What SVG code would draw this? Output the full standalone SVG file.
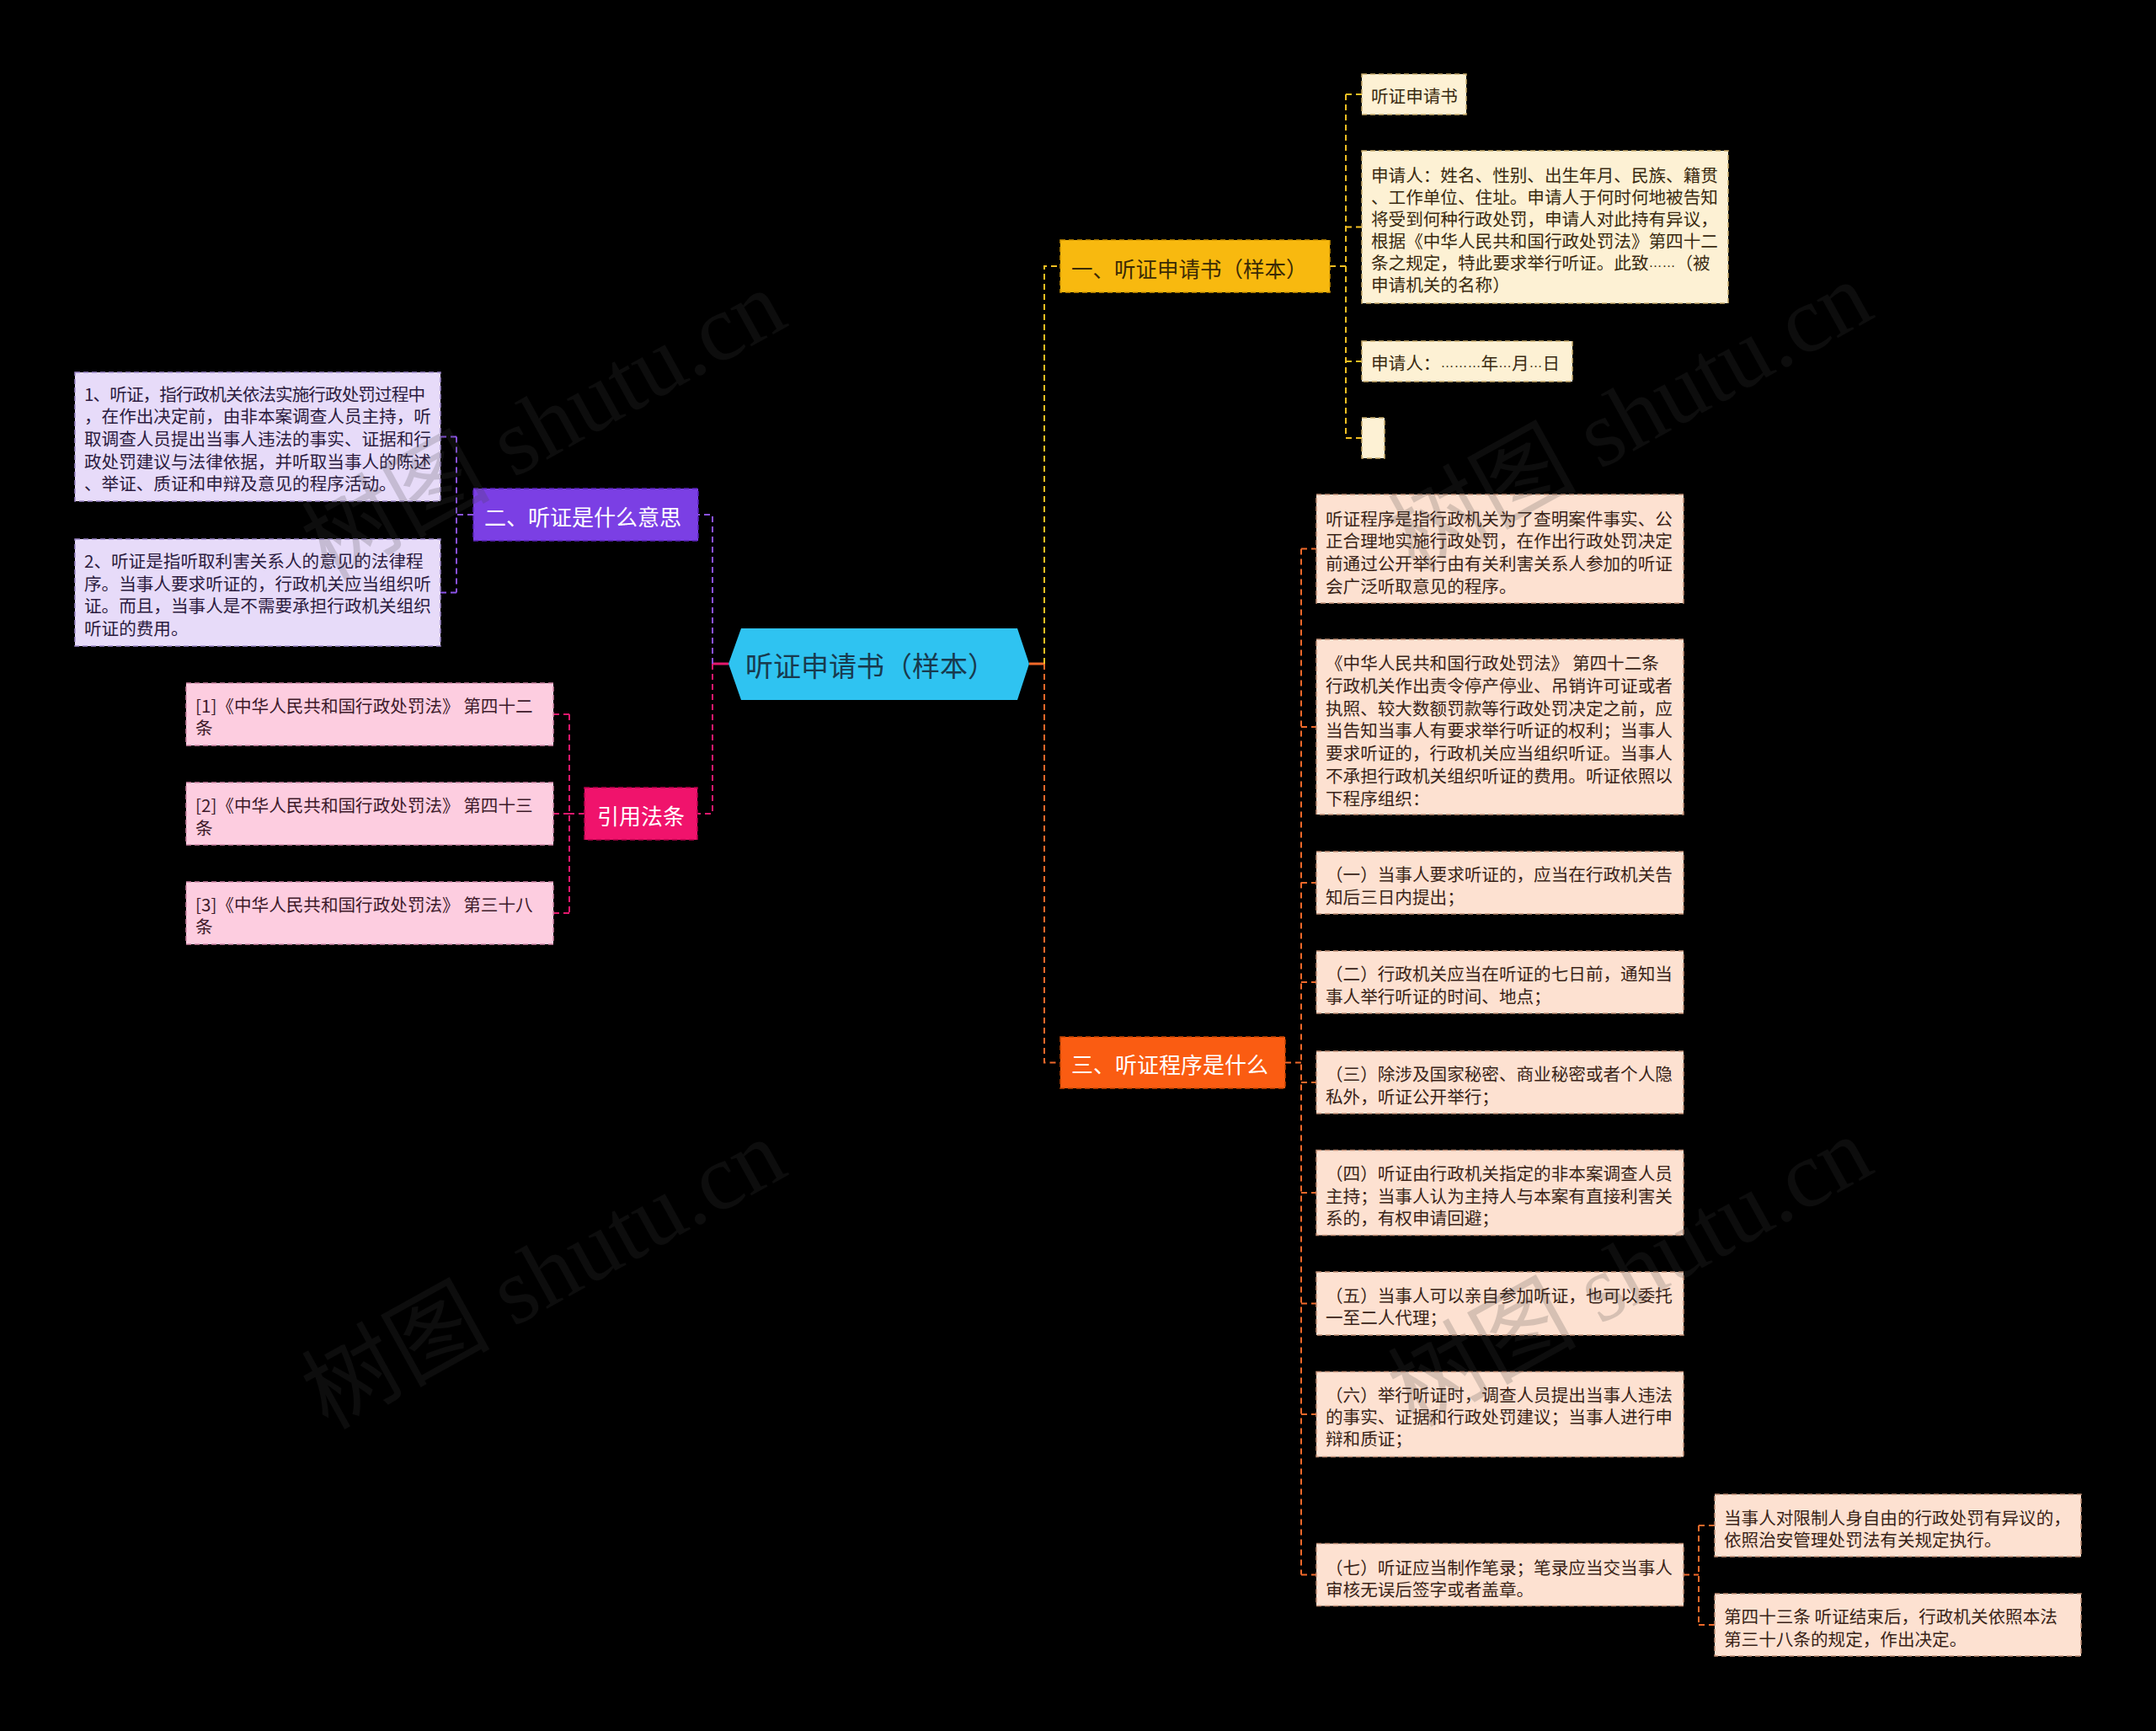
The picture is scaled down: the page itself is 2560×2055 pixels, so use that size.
<svg xmlns="http://www.w3.org/2000/svg" width="2560" height="2055" viewBox="0 0 2560 2055">
<style>
.t{font-family:"Noto Sans CJK SC","Noto Sans",sans-serif;font-size:20.6px;dominant-baseline:central}
.e{font-family:"Liberation Sans",sans-serif}
.bt{font-family:"Noto Sans CJK SC","Noto Sans",sans-serif;font-size:26px;dominant-baseline:central;fill:#ffffff}
.cy{stroke:#f3bf22;stroke-width:2;stroke-dasharray:7 5;fill:none}
.co{stroke:#f0692a;stroke-width:2;stroke-dasharray:7 5;fill:none}
.cp{stroke:#8a52e8;stroke-width:2;stroke-dasharray:7 5;fill:none}
.ck{stroke:#e3186d;stroke-width:2;stroke-dasharray:7 5;fill:none}
.cream{fill:#fdf1d4;stroke:#c9ad6e;stroke-width:1.5;stroke-dasharray:6 4}
.peach{fill:#fde1d1;stroke:#bf8d74;stroke-width:1.5;stroke-dasharray:6 4}
.lav{fill:#e7dbf9;stroke:#9c86c8;stroke-width:1.5;stroke-dasharray:6 4}
.pink{fill:#fdcde0;stroke:#cf86a6;stroke-width:1.5;stroke-dasharray:6 4}
.tc{fill:#3a2a10}
.tp{fill:#3a2418}
.tl{fill:#2c1c40}
.tk{fill:#3e1a2a}
.wm{font-family:"Liberation Serif","Noto Sans CJK SC",serif;font-size:112px;fill:#404040;opacity:0.2}
</style>
<rect x="0" y="0" width="2560" height="2055" fill="#000000"/>

<g id="connectors">
  <line x1="1222" y1="788" x2="1240" y2="788" stroke="#f0692a" stroke-width="3"/>
  <line x1="846" y1="788" x2="865" y2="788" stroke="#e3186d" stroke-width="3"/>
  <path class="cy" d="M1240 788 V316 H1259"/>
  <path class="co" d="M1240 788 V1261.5 H1259"/>
  <path class="cp" d="M846 788 V611 H829"/>
  <path class="ck" d="M846 788 V966 H828"/>
  <path class="cy" d="M1579 316 H1598 M1598 112 V520 M1598 112 H1617 M1598 269.5 H1617 M1598 429 H1617 M1598 520 H1617"/>
  <path class="co" d="M1526 1261.5 H1545 M1545 651.5 V1869.5 M1545 651.5 H1563 M1545 863 H1563 M1545 1048 H1563 M1545 1166 H1563 M1545 1285 H1563 M1545 1416 H1563 M1545 1547.5 H1563 M1545 1679 H1563 M1545 1869.5 H1563"/>
  <path class="co" d="M1999 1869.5 H2017 M2017 1811 V1929 M2017 1811 H2036 M2017 1929 H2036"/>
  <path class="cp" d="M562 611 H542 M542 518.5 V703.5 M542 518.5 H523 M542 703.5 H523"/>
  <path class="ck" d="M694 966 H676 M676 848 V1084 M676 848 H657 M676 966 H657 M676 1084 H657"/>
</g>

<g id="root">
  <polygon points="865,788 880,746 1208,746 1222,788 1208,831 880,831" fill="#2fc3f1"/>
  <text x="885" y="789" font-family="Noto Sans CJK SC, sans-serif" font-size="33" dominant-baseline="central" fill="#183a4e">听证申请书（样本）</text>
</g>

<g id="b1">
  <rect x="1259" y="285" width="320" height="62" fill="#f8b90f" stroke="#d49800" stroke-width="1.5" stroke-dasharray="6 4"/>
  <text class="bt" x="1272" y="317" style="fill:#3a2a05;font-size:25.5px">一、听证申请书（样本）</text>
</g>
<g id="b1c1">
  <rect class="cream" x="1617" y="88" width="124" height="48"/>
  <text class="t tc" x="1628" y="113">听证申请书</text>
</g>
<g id="b1c2">
  <rect class="cream" x="1617" y="179" width="435" height="181"/>
  <text class="t tc" x="1628" y="206.5">申请人：姓名、性别、出生年月、民族、籍贯</text>
  <text class="t tc" x="1628" y="232.5">、工作单位、住址。申请人于何时何地被告知</text>
  <text class="t tc" x="1628" y="258.5">将受到何种行政处罚，申请人对此持有异议，</text>
  <text class="t tc" x="1628" y="284.5">根据《中华人民共和国行政处罚法》第四十二</text>
  <text class="t tc" x="1628" y="310.5">条之规定，特此要求举行听证。此致<tspan class="e" style="font-size:16px">……</tspan>（被</text>
  <text class="t tc" x="1628" y="336.5">申请机关的名称）</text>
</g>
<g id="b1c3">
  <rect class="cream" x="1617" y="405" width="250" height="48"/>
  <text class="t tc" x="1628" y="430">申请人：<tspan class="e" style="font-size:16px">………</tspan>年<tspan class="e" style="font-size:16px">…</tspan>月<tspan class="e" style="font-size:16px">…</tspan>日</text>
</g>
<g id="b1c4">
  <rect class="cream" x="1617" y="496" width="27" height="48"/>
</g>

<g id="b3">
  <rect x="1259" y="1231" width="267" height="61" fill="#fa5c12" stroke="#c84400" stroke-width="1.5" stroke-dasharray="6 4"/>
  <text class="bt" x="1272" y="1262">三、听证程序是什么</text>
</g>
<g id="b3c1">
  <rect class="peach" x="1563" y="587" width="436" height="129"/>
  <text class="t tp" x="1574" y="614.5">听证程序是指行政机关为了查明案件事实、公</text>
  <text class="t tp" x="1574" y="641.2">正合理地实施行政处罚，在作出行政处罚决定</text>
  <text class="t tp" x="1574" y="667.9">前通过公开举行由有关利害关系人参加的听证</text>
  <text class="t tp" x="1574" y="694.6">会广泛听取意见的程序。</text>
</g>
<g id="b3c2">
  <rect class="peach" x="1563" y="759" width="436" height="208"/>
  <text class="t tp" x="1574" y="786.3">《中华人民共和国行政处罚法》 第四十二条</text>
  <text class="t tp" x="1574" y="813">行政机关作出责令停产停业、吊销许可证或者</text>
  <text class="t tp" x="1574" y="839.7">执照、较大数额罚款等行政处罚决定之前，应</text>
  <text class="t tp" x="1574" y="866.4">当告知当事人有要求举行听证的权利；当事人</text>
  <text class="t tp" x="1574" y="893.1">要求听证的，行政机关应当组织听证。当事人</text>
  <text class="t tp" x="1574" y="919.8">不承担行政机关组织听证的费用。听证依照以</text>
  <text class="t tp" x="1574" y="946.5">下程序组织：</text>
</g>
<g id="b3c3">
  <rect class="peach" x="1563" y="1011" width="436" height="74"/>
  <text class="t tp" x="1574" y="1037.2">（一）当事人要求听证的，应当在行政机关告</text>
  <text class="t tp" x="1574" y="1063.9">知后三日内提出；</text>
</g>
<g id="b3c4">
  <rect class="peach" x="1563" y="1129" width="436" height="74"/>
  <text class="t tp" x="1574" y="1155.4">（二）行政机关应当在听证的七日前，通知当</text>
  <text class="t tp" x="1574" y="1182.1">事人举行听证的时间、地点；</text>
</g>
<g id="b3c5">
  <rect class="peach" x="1563" y="1248" width="436" height="74"/>
  <text class="t tp" x="1574" y="1274">（三）除涉及国家秘密、商业秘密或者个人隐</text>
  <text class="t tp" x="1574" y="1300.7">私外，听证公开举行；</text>
</g>
<g id="b3c6">
  <rect class="peach" x="1563" y="1365.5" width="436" height="101"/>
  <text class="t tp" x="1574" y="1391.8">（四）听证由行政机关指定的非本案调查人员</text>
  <text class="t tp" x="1574" y="1418.5">主持；当事人认为主持人与本案有直接利害关</text>
  <text class="t tp" x="1574" y="1445.2">系的，有权申请回避；</text>
</g>
<g id="b3c7">
  <rect class="peach" x="1563" y="1510" width="436" height="75"/>
  <text class="t tp" x="1574" y="1536.6">（五）当事人可以亲自参加听证，也可以委托</text>
  <text class="t tp" x="1574" y="1563.3">一至二人代理；</text>
</g>
<g id="b3c8">
  <rect class="peach" x="1563" y="1628.5" width="436" height="101"/>
  <text class="t tp" x="1574" y="1655">（六）举行听证时，调查人员提出当事人违法</text>
  <text class="t tp" x="1574" y="1681">的事实、证据和行政处罚建议；当事人进行申</text>
  <text class="t tp" x="1574" y="1707">辩和质证；</text>
</g>
<g id="b3c9">
  <rect class="peach" x="1563" y="1832.5" width="436" height="74"/>
  <text class="t tp" x="1574" y="1859.5">（七）听证应当制作笔录；笔录应当交当事人</text>
  <text class="t tp" x="1574" y="1885.5">审核无误后签字或者盖章。</text>
</g>
<g id="b3c9g1">
  <rect class="peach" x="2036" y="1774" width="435" height="74"/>
  <text class="t tp" x="2047" y="1801.2">当事人对限制人身自由的行政处罚有异议的，</text>
  <text class="t tp" x="2047" y="1827">依照治安管理处罚法有关规定执行。</text>
</g>
<g id="b3c9g2">
  <rect class="peach" x="2036" y="1892" width="435" height="74"/>
  <text class="t tp" x="2047" y="1918.4">第四十三条 听证结束后，行政机关依照本法</text>
  <text class="t tp" x="2047" y="1944.7">第三十八条的规定，作出决定。</text>
</g>

<g id="b2">
  <rect x="562" y="580" width="267" height="62" fill="#7b3fe4" stroke="#5a22b8" stroke-width="1.5" stroke-dasharray="6 4"/>
  <text class="bt" x="575" y="612">二、听证是什么意思</text>
</g>
<g id="b2c1">
  <rect class="lav" x="89" y="442" width="434" height="153"/>
  <text class="t tl" x="100" y="466.6" textLength="405" lengthAdjust="spacing">1、听证，指行政机关依法实施行政处罚过程中</text>
  <text class="t tl" x="100" y="493.3">，在作出决定前，由非本案调查人员主持，听</text>
  <text class="t tl" x="100" y="520">取调查人员提出当事人违法的事实、证据和行</text>
  <text class="t tl" x="100" y="546.7">政处罚建议与法律依据，并听取当事人的陈述</text>
  <text class="t tl" x="100" y="573.4">、举证、质证和申辩及意见的程序活动。</text>
</g>
<g id="b2c2">
  <rect class="lav" x="89" y="640" width="434" height="127"/>
  <text class="t tl" x="100" y="665">2、听证是指听取利害关系人的意见的法律程</text>
  <text class="t tl" x="100" y="691.7">序。当事人要求听证的，行政机关应当组织听</text>
  <text class="t tl" x="100" y="718.4">证。而且，当事人是不需要承担行政机关组织</text>
  <text class="t tl" x="100" y="745.1">听证的费用。</text>
</g>

<g id="b4">
  <rect x="694" y="935" width="134" height="62" fill="#f0136c" stroke="#b8004c" stroke-width="1.5" stroke-dasharray="6 4"/>
  <text class="bt" x="709" y="967">引用法条</text>
</g>
<g id="b4c1">
  <rect class="pink" x="221" y="811" width="436" height="74"/>
  <text class="t tk" x="232" y="836.6">[1]《中华人民共和国行政处罚法》 第四十二</text>
  <text class="t tk" x="232" y="862.5">条</text>
</g>
<g id="b4c2">
  <rect class="pink" x="221" y="929" width="436" height="74"/>
  <text class="t tk" x="232" y="954.8">[2]《中华人民共和国行政处罚法》 第四十三</text>
  <text class="t tk" x="232" y="981.5">条</text>
</g>
<g id="b4c3">
  <rect class="pink" x="221" y="1047" width="436" height="74"/>
  <text class="t tk" x="232" y="1072.8">[3]《中华人民共和国行政处罚法》 第三十八</text>
  <text class="t tk" x="232" y="1099.2">条</text>
</g>

<g id="watermark">
  <text class="wm" transform="translate(389 690) rotate(-29)">树图 shutu.cn</text>
  <text class="wm" transform="translate(1679 680) rotate(-29)">树图 shutu.cn</text>
  <text class="wm" transform="translate(389 1698) rotate(-29)">树图 shutu.cn</text>
  <text class="wm" transform="translate(1679 1695) rotate(-29)">树图 shutu.cn</text>
</g>
</svg>
